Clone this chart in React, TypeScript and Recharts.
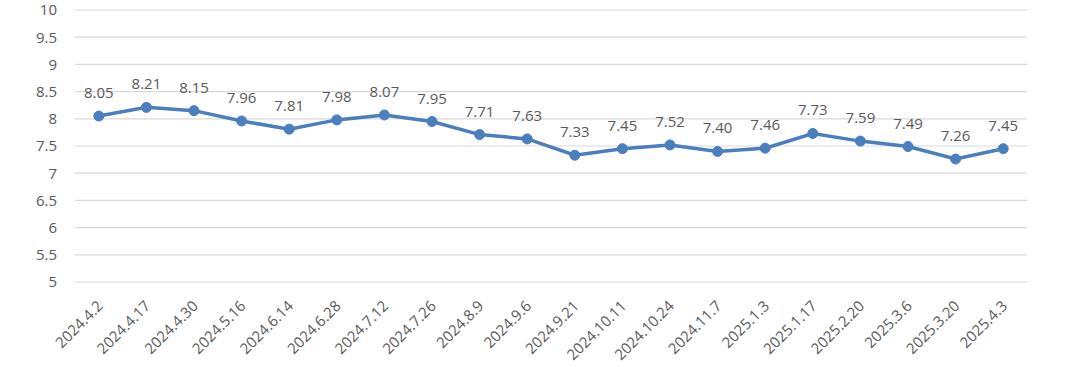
import React from "react";
import {
  LineChart,
  Line,
  XAxis,
  YAxis,
  CartesianGrid,
  LabelList,
} from "recharts";

const dates = [
  "2024.4.2", "2024.4.17", "2024.4.30", "2024.5.16", "2024.6.14",
  "2024.6.28", "2024.7.12", "2024.7.26", "2024.8.9", "2024.9.6",
  "2024.9.21", "2024.10.11", "2024.10.24", "2024.11.7", "2025.1.3",
  "2025.1.17", "2025.2.20", "2025.3.6", "2025.3.20", "2025.4.3",
];

const rates = [
  8.05, 8.21, 8.15, 7.96, 7.81, 7.98, 8.07, 7.95, 7.71, 7.63,
  7.33, 7.45, 7.52, 7.4, 7.46, 7.73, 7.59, 7.49, 7.26, 7.45,
];

const yTicks = [5, 5.5, 6, 6.5, 7, 7.5, 8, 8.5, 9, 9.5, 10];

const data = dates.map((d, i) => ({ date: d, value: rates[i] }));

const FONT = "'Open Sans', 'Noto Sans', sans-serif";
const TEXT = "#595959";

const DateTick = (props: any) => {
  const { x, y, payload } = props;
  return (
    <g transform={`translate(${x + 5},${y + 17})`}>
      <text
        textAnchor="end"
        transform="rotate(-45)"
        fill={TEXT}
        fontSize={15}
        fontFamily={FONT}
      >
        {payload.value}
      </text>
    </g>
  );
};

export default function App() {
  return (
    <div style={{ position: "absolute", left: 0, top: 0, background: "#fff" }}>
      <LineChart
        width={1080}
        height={367}
        data={data}
        margin={{ top: 10, right: 53, bottom: 0, left: 0 }}
      >
        <CartesianGrid vertical={false} stroke="#d9d9d9" strokeWidth={1.2} />
        <XAxis
          dataKey="date"
          interval={0}
          axisLine={false}
          tickLine={false}
          height={85}
          padding={{ left: 23.8, right: 23.8 }}
          tick={<DateTick />}
        />
        <YAxis
          domain={[5, 10]}
          ticks={yTicks}
          width={75}
          axisLine={false}
          tickLine={false}
          tickMargin={12}
          tick={{ fill: TEXT, fontSize: 15, fontFamily: FONT }}
        />
        <Line
          type="linear"
          dataKey="value"
          stroke="#4a7ebf"
          strokeWidth={3.5}
          dot={{ r: 5, fill: "#4a7ebf", stroke: "#4a7ebf", strokeWidth: 1 }}
          isAnimationActive={false}
        >
          <LabelList
            dataKey="value"
            position="top"
            offset={18}
            fill={TEXT}
            fontSize={15}
            fontFamily={FONT}
            formatter={(v: any) => Number(v).toFixed(2)}
          />
        </Line>
      </LineChart>
    </div>
  );
}
